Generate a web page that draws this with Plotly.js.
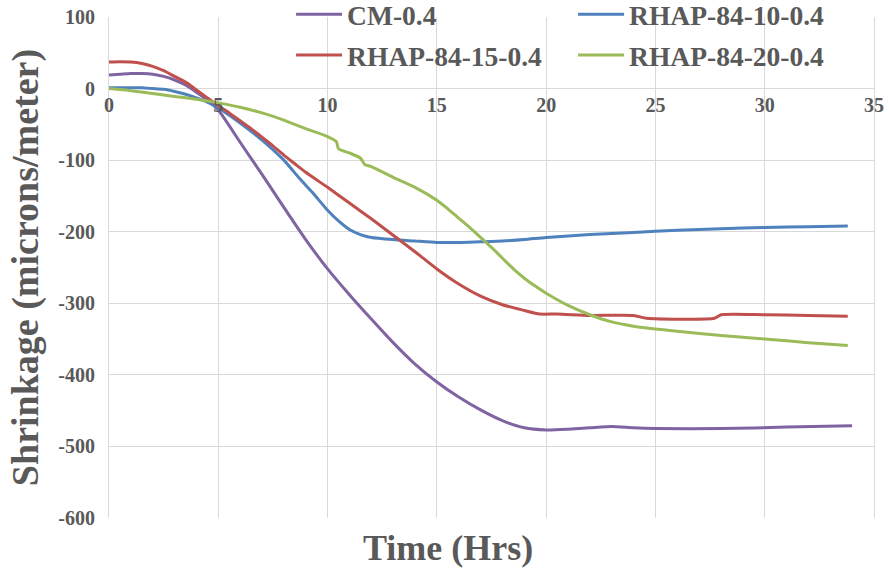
<!DOCTYPE html>
<html>
<head>
<meta charset="utf-8">
<script src="https://cdn.plot.ly/plotly-3.0.1.min.js"></script>
<style>
  html, body { margin: 0; padding: 0; background: #fff; }
  #chart { width: 889px; height: 569px; }
</style>
</head>
<body>
<div id="chart"></div>
<script>
// Autogenous shrinkage of cement mortar mixes over the first 34 hours
const seriesNames = ['CM-0.4', 'RHAP-84-10-0.4', 'RHAP-84-15-0.4', 'RHAP-84-20-0.4'];
const seriesColors = ['#8064A2', '#4F81BD', '#C0504D', '#9BBB59'];

const cmHrs = [0, 0.5, 1, 1.5, 2, 2.5, 3, 3.5, 4, 4.5, 5, 6, 7, 8, 9, 10, 11, 12, 13, 14, 15, 16, 17, 18, 19, 20, 21, 22, 23, 24, 25, 28, 31, 34];
const cmShrink = [19, 20, 21, 21, 20, 17, 12, 5, -5, -16, -30, -75, -120, -166, -211, -252, -288, -322, -355, -385, -410, -431, -449, -464, -474, -477, -476, -474, -472, -474, -475, -475, -473, -471];

const r10Hrs = [0, 0.5, 1, 1.5, 2, 2.5, 3, 3.5, 4, 4.5, 5, 6, 7, 8, 8.7, 9.3, 10, 10.5, 11, 11.5, 12, 13, 14, 15, 16, 17, 18, 19, 20, 22, 24, 26, 28, 30, 32, 33.8];
const r10Shrink = [1, 1, 1, 1, 0, -1, -4, -8, -13, -19, -27, -48, -72, -100, -125, -145, -170, -185, -197, -204, -208, -211, -213, -215, -215, -214, -213, -211, -208, -204, -201, -198, -196, -194, -193, -192];

const r15Hrs = [0, 0.5, 1, 1.5, 2, 2.5, 3, 3.5, 3.7, 4, 4.5, 5, 5.5, 6, 6.5, 7, 7.5, 8, 8.5, 9, 10, 11, 12, 13, 14, 15, 16, 17, 18, 19, 19.7, 20.5, 22, 24, 24.6, 27.7, 28, 30, 32, 33.8];
const r15Shrink = [37, 37.5, 37, 35, 31, 25, 17, 9, 5, -2, -13, -24, -34, -45, -56, -68, -80, -93, -105, -117, -138, -160, -182, -205, -228, -252, -273, -290, -302, -310, -315, -315, -317, -317, -321, -321, -316, -316, -317, -318];

const r20Hrs = [0, 1, 2, 3, 4, 5, 6, 7, 8, 9, 10, 10.4, 10.5, 11, 11.5, 11.7, 12, 13, 14, 15, 15.5, 16, 16.5, 17, 17.5, 18, 18.5, 19, 19.5, 20, 21, 22, 23, 24, 25, 26, 28, 30, 32, 33.8];
const r20Shrink = [0, -3, -7, -11, -15, -20, -26, -34, -44, -56, -67, -74, -84, -90, -97, -106, -109, -124, -138, -156, -168, -181, -194, -208, -222, -237, -252, -265, -276, -286, -303, -316, -326, -332, -336, -339, -345, -350, -355, -359];

const xTicks = [0, 5, 10, 15, 20, 25, 30, 35];
const yTicks = [100, 0, -100, -200, -300, -400, -500, -600];

const serif = 'Liberation Serif, Times New Roman, serif';
const textGray = '#595959';
const gridGray = '#d9d9d9';

const xs = [cmHrs, r10Hrs, r15Hrs, r20Hrs];
const ys = [cmShrink, r10Shrink, r15Shrink, r20Shrink];
const legendOf = ['legend', 'legend', 'legend2', 'legend2'];

const traces = seriesNames.map((name, i) => ({
  type: 'scatter',
  mode: 'lines',
  name: name,
  x: xs[i],
  y: ys[i],
  line: { color: seriesColors[i], width: 3, shape: 'spline', smoothing: 0.6 },
  legend: legendOf[i]
}));

const legendFont = { family: serif, size: 27.5, color: textGray, weight: 'bold' };

const layout = {
  width: 889,
  height: 569,
  margin: { l: 109, r: 15, t: 17, b: 51, autoexpand: false },
  paper_bgcolor: '#ffffff',
  plot_bgcolor: '#ffffff',
  showlegend: true,
  xaxis: {
    range: [0, 35],
    tickvals: xTicks,
    ticktext: xTicks.map(String),
    anchor: 'free',
    position: 600 / 700,
    showgrid: true,
    gridcolor: gridGray,
    gridwidth: 1,
    zeroline: false,
    showline: false,
    ticks: '',
    ticklabelstandoff: 2,
    tickfont: { family: serif, size: 20, color: textGray, weight: 'bold' }
  },
  yaxis: {
    range: [-600, 100],
    tickvals: yTicks,
    ticktext: yTicks.map(String),
    domain: [0, 1],
    showgrid: true,
    gridcolor: gridGray,
    gridwidth: 1,
    zeroline: false,
    showline: true,
    linecolor: gridGray,
    linewidth: 1,
    mirror: true,
    ticks: '',
    ticklabelstandoff: 9,
    tickfont: { family: serif, size: 20, color: textGray, weight: 'bold' },
    title: {
      text: 'Shrinkage (microns/meter)',
      font: { family: serif, size: 38, color: textGray, weight: 'bold' },
      standoff: 8
    }
  },
  legend: {
    orientation: 'h',
    x: 0.238, xanchor: 'left',
    y: 1.054, yanchor: 'top',
    bgcolor: 'rgba(0,0,0,0)',
    font: legendFont,
    entrywidth: 221,
    itemwidth: 46
  },
  legend2: {
    orientation: 'h',
    x: 0.238, xanchor: 'left',
    y: 0.973, yanchor: 'top',
    bgcolor: 'rgba(0,0,0,0)',
    font: legendFont,
    entrywidth: 221,
    itemwidth: 46
  },
  annotations: [{
    text: 'Time (Hrs)',
    xref: 'paper', yref: 'paper',
    x: 0.443, y: -0.06,
    xanchor: 'center', yanchor: 'middle',
    showarrow: false,
    font: { family: serif, size: 36, color: textGray, weight: 'bold' }
  }]
};

Plotly.newPlot('chart', traces, layout, { displayModeBar: false, staticPlot: true });
</script>
</body>
</html>
